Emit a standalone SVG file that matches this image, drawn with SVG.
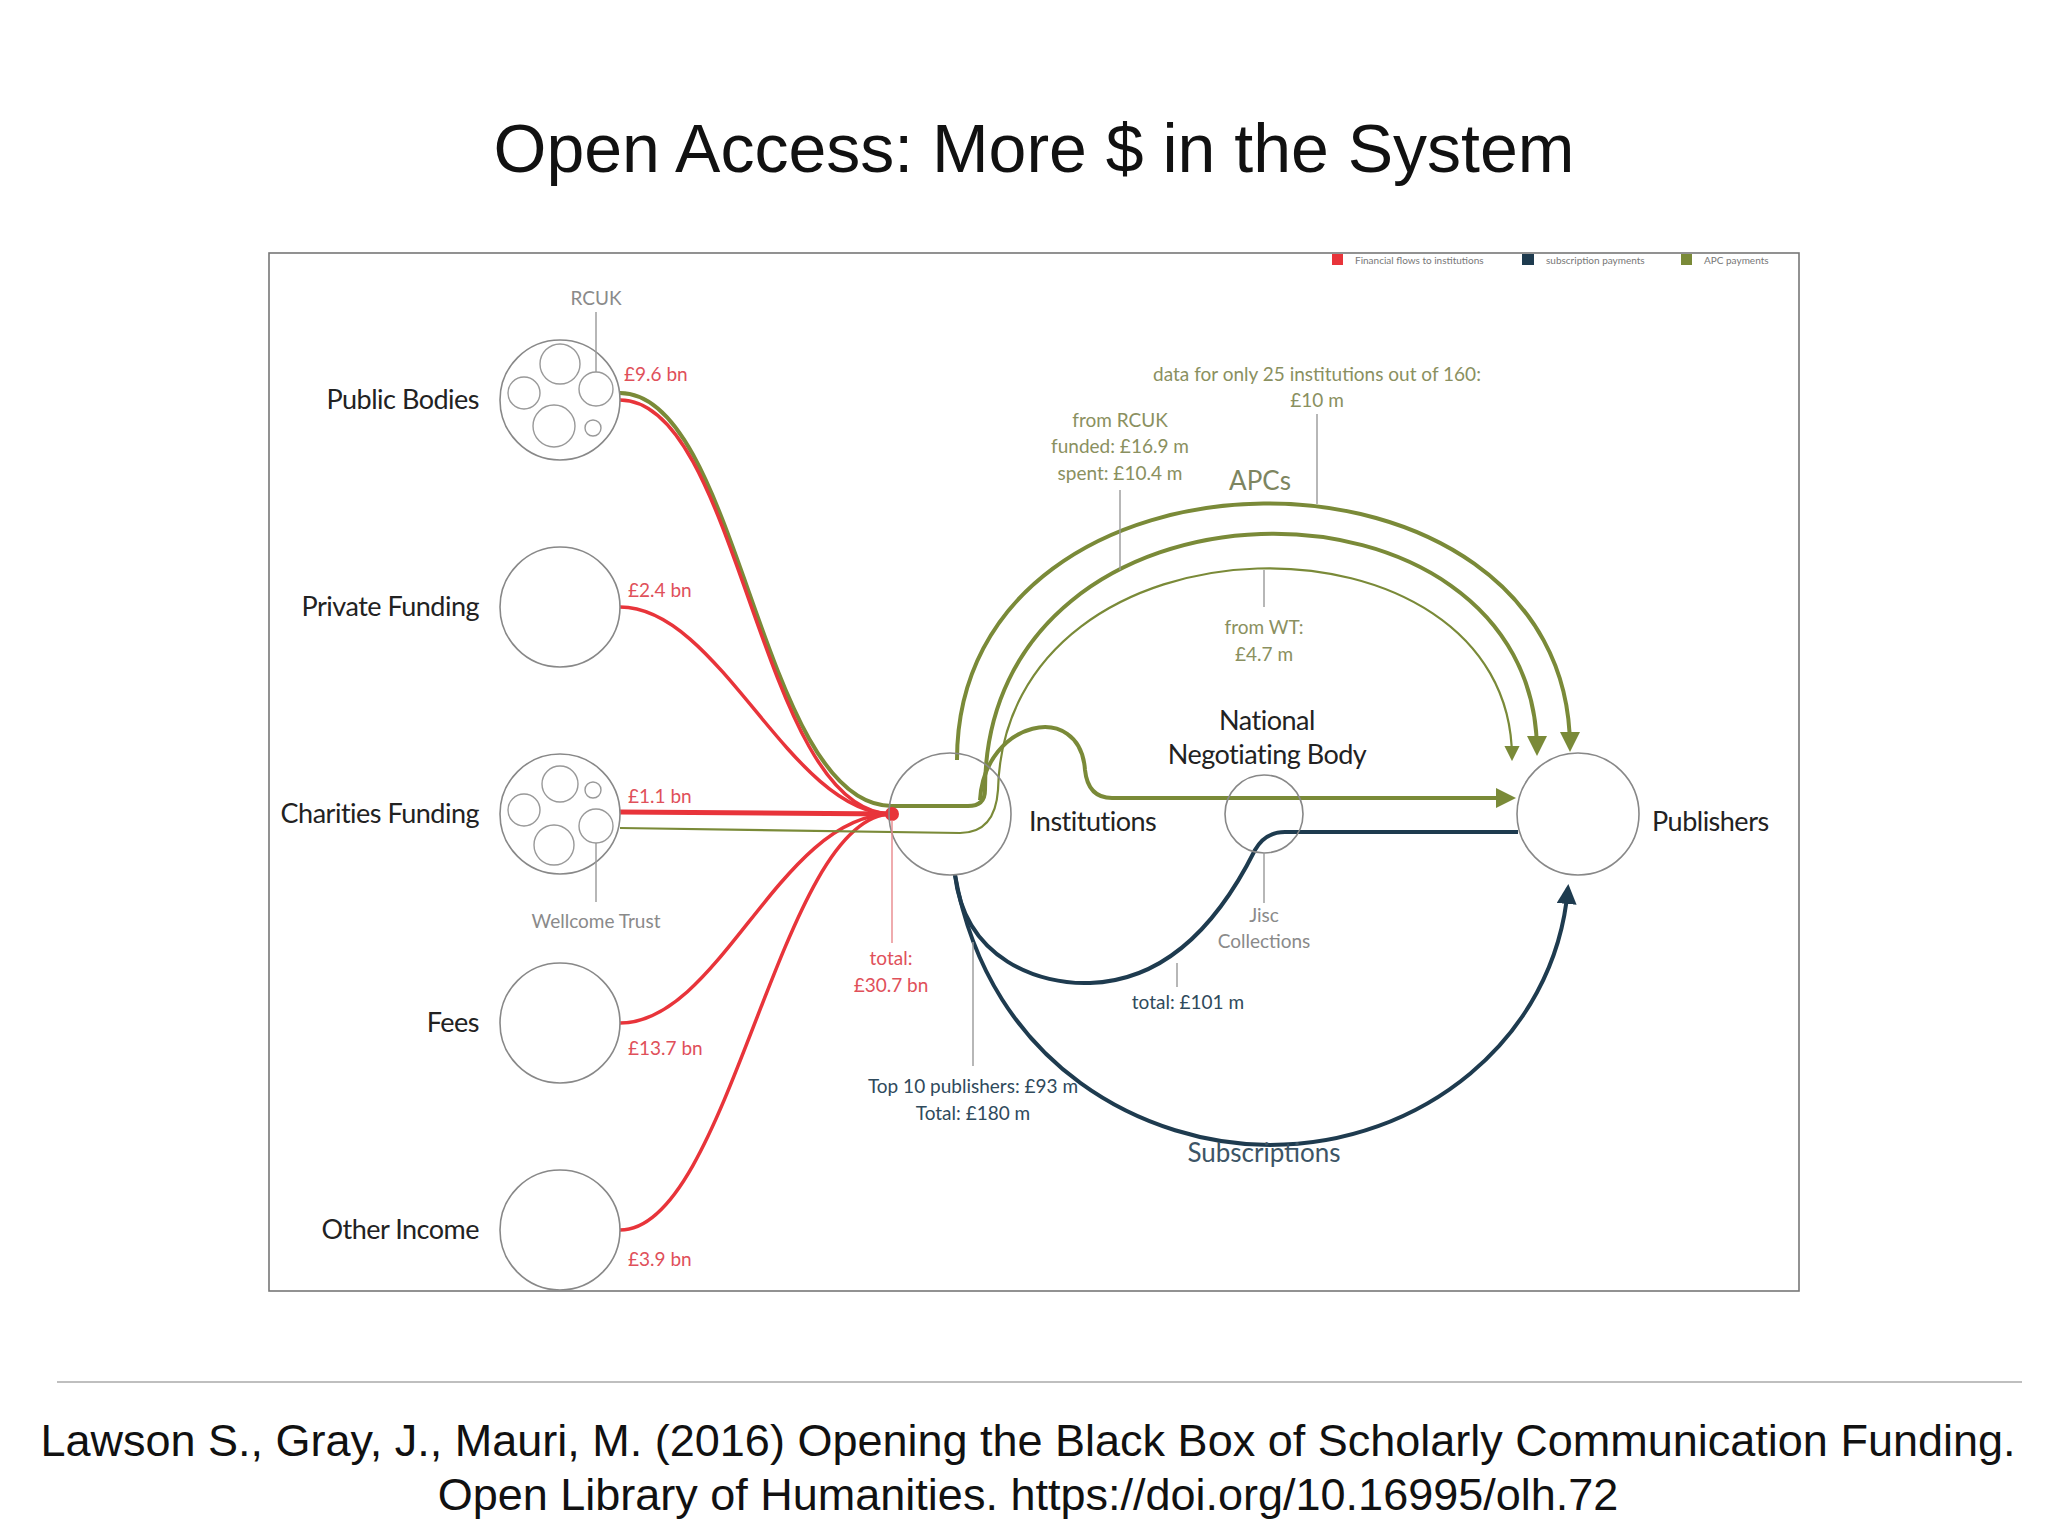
<svg xmlns="http://www.w3.org/2000/svg" width="2048" height="1536" viewBox="0 0 2048 1536">
<defs>
<style>
.t{font-family:Lato,"Open Sans",sans-serif}
.lbl{font-family:Lato,"Open Sans",sans-serif;font-size:27px;fill:#222;letter-spacing:-0.5px}
.gr{font-family:Lato,sans-serif;font-size:19px;fill:#8a8a8a}
.rd{font-family:Lato,sans-serif;font-size:19px;fill:#e0505a}
.gn{font-family:Lato,sans-serif;font-size:19px;fill:#8a9060}
.bl{font-family:Lato,sans-serif;font-size:19px;fill:#2f4a5c}
.node{fill:#fff;stroke:#888;stroke-width:1.6}
.sub{fill:none;stroke:#999;stroke-width:1.4}
.red{fill:none;stroke:#e8343a;stroke-width:3.5}
.grn{fill:none;stroke:#7a8a38;stroke-width:4}
.grnt{fill:none;stroke:#7a8a38;stroke-width:2.2}
.blu{fill:none;stroke:#1e3b4f;stroke-width:4}
.lead{stroke:#999;stroke-width:1.4;fill:none}
</style>
<marker id="ag" viewBox="0 0 10 10" refX="8" refY="5" markerWidth="5" markerHeight="5" orient="auto" markerUnits="strokeWidth"><path d="M0,0 L10,5 L0,10 z" fill="#7a8a38"/></marker>
<marker id="agt" viewBox="0 0 10 10" refX="8" refY="5" markerWidth="7" markerHeight="7" orient="auto" markerUnits="strokeWidth"><path d="M0,0 L10,5 L0,10 z" fill="#7a8a38"/></marker>
<marker id="ab" viewBox="0 0 10 10" refX="8" refY="5" markerWidth="5" markerHeight="5" orient="auto" markerUnits="strokeWidth"><path d="M0,0 L10,5 L0,10 z" fill="#1e3b4f"/></marker>
</defs>
<rect width="2048" height="1536" fill="#fff"/>
<text x="1034" y="172" text-anchor="middle" font-family="Liberation Sans,Arial,sans-serif" font-size="68" fill="#111">Open Access: More $ in the System</text>
<rect x="269" y="253" width="1530" height="1038" fill="#fff" stroke="#777" stroke-width="1.6"/>
<g id="legend">
<rect x="1332" y="254" width="11" height="11" fill="#e8343a"/><text x="1355" y="264" class="t" font-size="10" fill="#777">Financial flows to institutions</text>
<rect x="1522" y="254" width="12" height="11" fill="#1e3b4f"/><text x="1546" y="264" class="t" font-size="10" fill="#777">subscription payments</text>
<rect x="1681" y="254" width="11" height="11" fill="#7a8a38"/><text x="1704" y="264" class="t" font-size="10" fill="#777">APC payments</text>
</g>
<g id="connectors">
<path class="grn" d="M620,393 C740,393 760,806 892,806 L968,806 Q985,806 985,790 C985,455 1537,455 1537,752" marker-end="url(#ag)"/>
<path class="red" d="M620,400 C740,400 760,814 892,814"/>
<path class="red" d="M620,607 C720,607 790,814 892,814"/>
<path class="red" d="M620,812 L892,814" style="stroke-width:5"/>
<path class="red" d="M620,1023 C720,1023 780,814 892,814"/>
<path class="red" d="M620,1230 C730,1230 780,814 892,814"/>
<path class="grnt" d="M620,828 L960,833 Q995,833 998,790 C1005,500 1512,500 1512,758" marker-end="url(#agt)"/>
<path class="grn" d="M957,760 C957,420 1570,420 1570,748" marker-end="url(#ag)"/>
<path class="grn" d="M980,800 C985,720 1080,700 1085,770 Q1088,798 1112,798 L1512,798" marker-end="url(#ag)"/>
<path class="blu" d="M955,875 C965,960 1040,985 1090,983 C1180,980 1230,900 1255,850 Q1265,832 1285,832 L1518,832"/>
<path class="blu" d="M955,875 C990,1070 1150,1145 1270,1145 C1420,1145 1555,1040 1568,888" marker-end="url(#ab)"/>
<circle cx="892" cy="814" r="7" fill="#e8343a"/>
</g>
<g id="public-bodies"><circle class="node" cx="560" cy="400" r="60"/>
<circle class="sub" cx="560" cy="364" r="20"/><circle class="sub" cx="524" cy="393" r="16"/><circle class="sub" cx="596" cy="389" r="17"/><circle class="sub" cx="554" cy="426" r="21"/><circle class="sub" cx="593" cy="428" r="8"/>
<text class="lbl" x="479" y="409" text-anchor="end">Public Bodies</text><text class="rd" x="624" y="381">£9.6 bn</text>
<line class="lead" x1="596" y1="312" x2="596" y2="372"/><text class="gr" x="596" y="305" text-anchor="middle">RCUK</text></g>
<g id="private-funding"><circle class="node" cx="560" cy="607" r="60"/><text class="lbl" x="479" y="616" text-anchor="end">Private Funding</text><text class="rd" x="628" y="597">£2.4 bn</text></g>
<g id="charities-funding"><circle class="node" cx="560" cy="814" r="60"/>
<circle class="sub" cx="560" cy="784" r="18"/><circle class="sub" cx="593" cy="790" r="8"/><circle class="sub" cx="524" cy="810" r="16"/><circle class="sub" cx="596" cy="826" r="17"/><circle class="sub" cx="554" cy="845" r="20"/>
<text class="lbl" x="479" y="823" text-anchor="end">Charities Funding</text><text class="rd" x="628" y="803">£1.1 bn</text>
<line class="lead" x1="596" y1="843" x2="596" y2="902"/><text class="gr" x="596" y="928" text-anchor="middle">Wellcome Trust</text></g>
<g id="fees"><circle class="node" cx="560" cy="1023" r="60"/><text class="lbl" x="479" y="1032" text-anchor="end">Fees</text><text class="rd" x="628" y="1055">£13.7 bn</text></g>
<g id="other-income"><circle class="node" cx="560" cy="1230" r="60"/><text class="lbl" x="479" y="1239" text-anchor="end">Other Income</text><text class="rd" x="628" y="1266">£3.9 bn</text></g>
<g id="institutions"><circle class="node" cx="950" cy="814" r="61" style="fill:none"/><text class="lbl" x="1029" y="831">Institutions</text>
<line x1="892" y1="820" x2="892" y2="943" stroke="#e8888c" stroke-width="1.4"/>
<text class="rd" x="891" y="965" text-anchor="middle">total:</text><text class="rd" x="891" y="992" text-anchor="middle">£30.7 bn</text></g>
<g id="nnb"><circle class="node" cx="1264" cy="814" r="39" style="fill:none"/>
<text class="lbl" x="1267" y="730" text-anchor="middle">National</text><text class="lbl" x="1267" y="764" text-anchor="middle">Negotiating Body</text>
<line class="lead" x1="1264" y1="853" x2="1264" y2="903"/><text class="gr" x="1264" y="922" text-anchor="middle">Jisc</text><text class="gr" x="1264" y="948" text-anchor="middle">Collections</text></g>
<g id="publishers"><circle class="node" cx="1578" cy="814" r="61" style="fill:none"/><text class="lbl" x="1652" y="831">Publishers</text></g>
<g id="apc-labels">
<text class="gn" x="1317" y="381" text-anchor="middle">data for only 25 institutions out of 160:</text><text class="gn" x="1317" y="407" text-anchor="middle">£10 m</text>
<line class="lead" x1="1317" y1="414" x2="1317" y2="504"/>
<text class="gn" x="1120" y="427" text-anchor="middle">from RCUK</text><text class="gn" x="1120" y="453" text-anchor="middle">funded: £16.9 m</text><text class="gn" x="1120" y="480" text-anchor="middle">spent: £10.4 m</text>
<line class="lead" x1="1120" y1="490" x2="1120" y2="570"/>
<text x="1260" y="490" text-anchor="middle" class="t" font-size="26" fill="#7d8560">APCs</text>
<line class="lead" x1="1264" y1="570" x2="1264" y2="607"/>
<text class="gn" x="1264" y="634" text-anchor="middle">from WT:</text><text class="gn" x="1264" y="661" text-anchor="middle">£4.7 m</text>
</g>
<g id="sub-labels">
<line class="lead" x1="1177" y1="963" x2="1177" y2="987"/><text class="bl" x="1188" y="1009" text-anchor="middle">total: £101 m</text>
<line class="lead" x1="973" y1="942" x2="973" y2="1066"/>
<text class="bl" x="973" y="1093" text-anchor="middle">Top 10 publishers: £93 m</text><text class="bl" x="973" y="1120" text-anchor="middle">Total: £180 m</text>
<text x="1264" y="1162" text-anchor="middle" class="t" font-size="26" fill="#3d5566">Subscriptions</text>
</g>
<line x1="57" y1="1382" x2="2022" y2="1382" stroke="#aaa" stroke-width="1.5"/>
<text x="1028" y="1456" text-anchor="middle" font-family="Liberation Sans,Arial,sans-serif" font-size="45" fill="#111">Lawson S., Gray, J., Mauri, M. (2016) Opening the Black Box of Scholarly Communication Funding.</text>
<text x="1028" y="1510" text-anchor="middle" font-family="Liberation Sans,Arial,sans-serif" font-size="45" fill="#111">Open Library of Humanities. https://doi.org/10.16995/olh.72</text>
</svg>
